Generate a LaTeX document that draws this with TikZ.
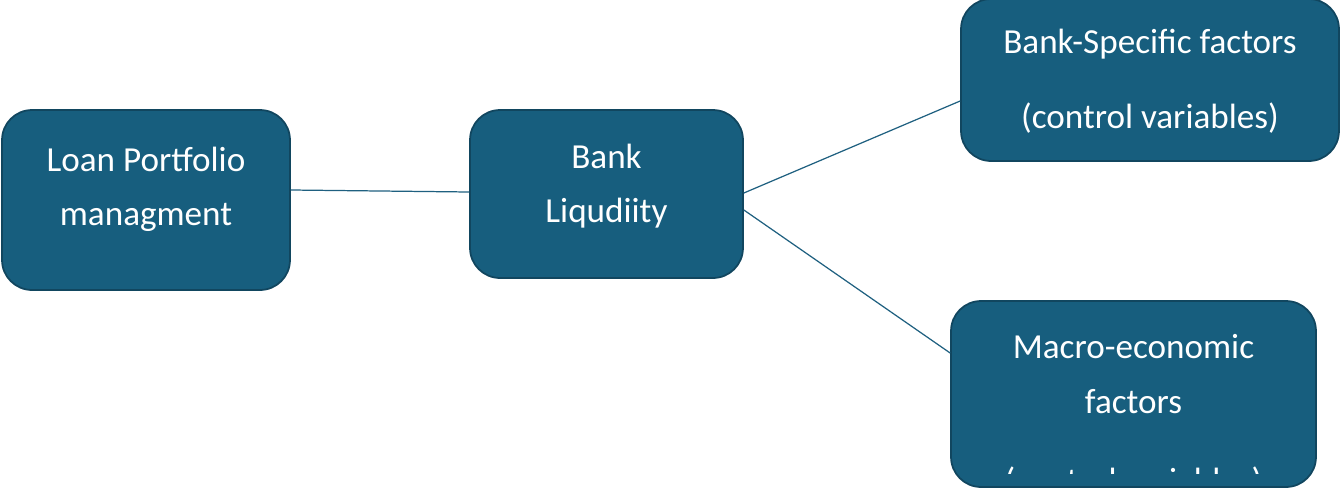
\documentclass[tikz,border=0pt]{standalone}
\usepackage{fontspec}
\setmainfont{Carlito}
\usetikzlibrary{calc}

\definecolor{tealfill}{RGB}{23,94,126}
\definecolor{tealedge}{RGB}{17,70,95}
\definecolor{teallink}{RGB}{31,96,128}

\begin{document}
\begin{tikzpicture}[
  x=0.02cm, y=-0.02cm,
  font=\fontsize{20}{31}\selectfont,
  box/.style={rectangle, rounded corners=0.6cm, draw=tealedge, line width=1pt,
              fill=tealfill, text=white, align=center, inner sep=0pt},
  link/.style={draw=teallink, line width=0.7pt},
]
\useasboundingbox (0,0) rectangle (1340,494);

% ------------------------------------------------------------------ boxes
\node[box, minimum width=5.76cm, minimum height=3.6cm, text depth=0.55cm]
     (loan) at (146,200) {Loan Portfolio\\managment};
\node[box, minimum width=5.46cm, minimum height=3.36cm, text depth=0.42cm]
     (liq) at (606.5,194) {Bank\\Liqudiity};
\node[box, minimum width=7.56cm, minimum height=3.24cm, text depth=0.05cm]
     (bsf) at (1150,80) {Bank-Specific factors\\[12pt](control variables)};
\node[box, minimum width=7.3cm, minimum height=3.72cm, text depth=0.8cm]
     (macro) at (1133.5,394) {Macro-economic\\factors};

% third line of the macro box runs past its bottom edge
\begin{scope}
  \clip (951,466) rectangle (1316,473);
  \node[anchor=base, text=white, inner sep=0pt] (macrorest) at (1133.5,492)
       {(control variables)};
\end{scope}

% ------------------------------------------------------------ connectors
\draw[link] ([yshift=0.2cm]loan.east) -- ([yshift=0.04cm]liq.west);
\draw[link] ([yshift=0.02cm]liq.east) -- ([yshift=-0.42cm]bsf.west);
\draw[link] ([yshift=-0.32cm]liq.east) -- ([yshift=0.82cm]macro.west);
\end{tikzpicture}
\end{document}
